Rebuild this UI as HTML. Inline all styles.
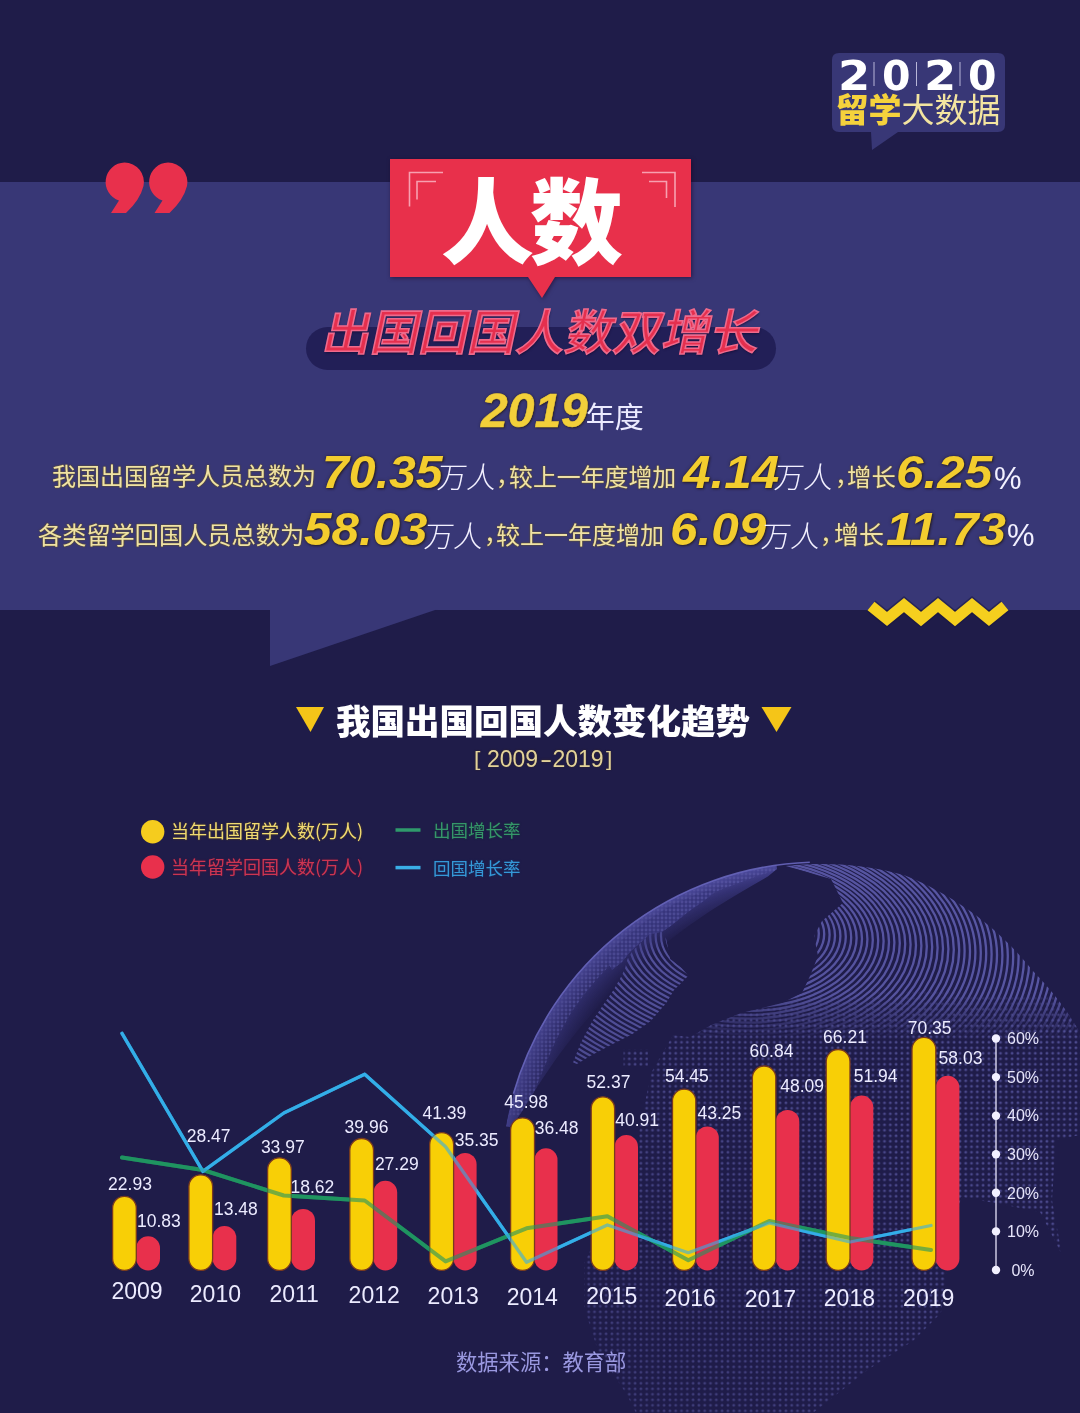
<!DOCTYPE html>
<html lang="zh-CN">
<head>
<meta charset="utf-8">
<title>2020留学大数据 - 人数</title>
<style>
*{margin:0;padding:0;box-sizing:border-box}
html,body{width:1080px;height:1413px;overflow:hidden;background:#1f1c49}
body{position:relative;font-family:"Liberation Sans","Noto Sans CJK SC",sans-serif}
.abs{position:absolute}
.band{left:0;top:182px;width:1080px;height:428px;background:#383776}
.cn{font-family:"Noto Sans CJK SC","Liberation Sans",sans-serif}
.t{white-space:nowrap;line-height:1}
.num{transform:scaleX(1.085);transform-origin:0 0;font:italic bold 45.5px "Liberation Sans",sans-serif;color:#f3cd2e;text-shadow:0 0 3px #2a2230,1px 1px 2px #2a2230}
.wt{font-size:29.5px;font-weight:300;color:#f2f0ff;transform:skewX(-7deg);transform-origin:0 100%}
.yl{font-size:24px;color:#efe2a6;text-shadow:0 0 2px rgba(110,90,20,.9),0 0 1px rgba(110,90,20,.9)}
.pct{font:31px "Liberation Sans",sans-serif;color:#f2f0ff}
</style>
</head>
<body>
<!-- background band -->
<div class="abs band"></div>
<svg class="abs" style="left:0;top:0" width="1080" height="1413" viewBox="0 0 1080 1413">
  <polygon points="270,609 270,666 438,609" fill="#383776"/>
</svg>

<!-- badge -->
<svg class="abs" style="left:0;top:0" width="1080" height="200" viewBox="0 0 1080 200">
  <path d="M839,53 H998 Q1005,53 1005,60 V125 Q1005,132 998,132 H898 L872,150 L871,132 H839 Q832,132 832,125 V60 Q832,53 839,53 Z" fill="#383776"/>
  <g stroke="#b8b6d8" stroke-width="1">
    <line x1="874" y1="62" x2="874" y2="86"/>
    <line x1="916.5" y1="62" x2="916.5" y2="86"/>
    <line x1="960" y1="62" x2="960" y2="86"/>
  </g>
</svg>
<div class="abs t" id="b2020" style="left:838px;top:52px;font:bold 41px 'DejaVu Sans',sans-serif;color:#fff;letter-spacing:0">
  <span class="abs" style="left:-0.5px;transform:scaleX(1.13);transform-origin:0 0">2</span><span class="abs" style="left:44px">0</span><span class="abs" style="left:86px;transform:scaleX(1.13);transform-origin:0 0">2</span><span class="abs" style="left:130px">0</span>
</div>
<div class="abs t cn" style="left:835.5px;top:91.5px;font-size:33px;color:#f3e4a0"><span style="font-weight:900;color:#f5d23c">留学</span>大数据</div>

<!-- quote marks -->
<svg class="abs" style="left:0;top:0" width="300" height="260" viewBox="0 0 300 260">
  <g fill="#e8304c">
    <path d="M124.5,162.5 A19.5,19.5 0 0 1 143.5,186 Q140,200 126,213 L111,213 L119,200.5 A19.5,19.5 0 0 1 124.5,162.5 Z"/>
    <path transform="translate(43.5,0)" d="M124.5,162.5 A19.5,19.5 0 0 1 143.5,186 Q140,200 126,213 L111,213 L119,200.5 A19.5,19.5 0 0 1 124.5,162.5 Z"/>
  </g>
</svg>

<!-- red title box -->
<svg class="abs" style="left:0;top:0" width="1080" height="400" viewBox="0 0 1080 400">
  <path d="M390,159 H691 V277 H555 L542,298 L528,277 H390 Z" fill="#e8304b" style="filter:drop-shadow(1px 1px 2px rgba(30,0,30,.55))"/>
  <g fill="none" stroke="#f7a0b0" stroke-width="1.6">
    <polyline points="443,172.5 409.5,172.5 409.5,206.5"/>
    <polyline points="436,181.5 417,181.5 417,199.5"/>
    <polyline points="642,172.5 675,172.5 675,207"/>
    <polyline points="649,181.5 666.5,181.5 666.5,198"/>
  </g>
  <rect x="306" y="327" width="470" height="43" rx="21.5" fill="#221f57"/>
</svg>
<div class="abs t cn" style="left:441px;top:170px;font-size:93px;font-weight:900;color:#fff;letter-spacing:-4px">人数</div>
<div class="abs t cn" style="left:320px;top:305px;font-size:48.5px;font-weight:500;color:#e52f4e;-webkit-text-stroke:1.6px #ee6a8c;text-shadow:1px 2px 2px rgba(20,10,50,.6);transform:skewX(-12deg);transform-origin:0 100%;letter-spacing:0">出国回国人数双增长</div>

<!-- year line -->
<div class="abs t" style="left:481px;top:383px;font:italic bold 48px 'Liberation Sans',sans-serif;color:#f2cf3a;-webkit-text-stroke:0.5px #f2cf3a;text-shadow:0 0 3px #2a2230,1px 1px 2px #2a2230">2019<span class="cn" style="position:relative;top:1px;left:-2px;font-style:normal;font-weight:400;font-size:29px;color:#ecebff;-webkit-text-stroke:0;text-shadow:none">年度</span></div>


<!-- stats lines -->
<div class="abs t cn yl" style="left:52px;top:463px">我国出国留学人员总数为</div>
<div class="abs t num" style="left:322px;top:447px;transform:scaleX(1.06)">70.35</div>
<div class="abs t cn wt" style="left:436px;top:461px">万人</div>
<div class="abs t cn yl" style="left:496px;top:463px">，</div>
<div class="abs t cn yl" style="left:509px;top:463.5px;font-size:23.9px">较上一年度增加</div>
<div class="abs t num" style="left:683px;top:447px">4.14</div>
<div class="abs t cn wt" style="left:773px;top:461px">万人</div>
<div class="abs t cn yl" style="left:835px;top:463px">，</div>
<div class="abs t cn yl" style="left:847px;top:463.5px;font-size:24.4px">增长</div>
<div class="abs t num" style="left:896px;top:447px">6.25</div>
<div class="abs t pct" style="left:994px;top:461px">%</div>

<div class="abs t cn yl" style="left:38px;top:522px;font-size:24.2px">各类留学回国人员总数为</div>
<div class="abs t num" style="left:304px;top:504px">58.03</div>
<div class="abs t cn wt" style="left:423px;top:519.5px">万人</div>
<div class="abs t cn yl" style="left:484px;top:521px">，</div>
<div class="abs t cn yl" style="left:496px;top:521.5px;font-size:24px">较上一年度增加</div>
<div class="abs t num" style="left:670px;top:504px">6.09</div>
<div class="abs t cn wt" style="left:760px;top:519.5px">万人</div>
<div class="abs t cn yl" style="left:820px;top:521px">，</div>
<div class="abs t cn yl" style="left:834px;top:521px;font-size:25px">增长</div>
<div class="abs t num" style="left:886px;top:504px">11.73</div>
<div class="abs t pct" style="left:1007px;top:518px">%</div>

<!-- zigzag -->
<svg class="abs" style="left:0;top:0" width="1080" height="700" viewBox="0 0 1080 700">
  <polyline points="871,606 887,619 904,605 921,619 938,605 955,619 972,605 989,619 1005,606" fill="none" stroke="#1a1740" stroke-width="14" stroke-linejoin="miter" stroke-linecap="butt" opacity="0.55"/>
  <polyline points="871,606 887,619 904,605 921,619 938,605 955,619 972,605 989,619 1005,606" fill="none" stroke="#f5cf1e" stroke-width="11" stroke-linejoin="miter" stroke-linecap="butt"/>
</svg>

<!-- globe -->
<svg class="abs" style="left:0;top:0" width="1080" height="1413" viewBox="0 0 1080 1413">
<defs>
<pattern id="dA" width="5.8" height="5.5" patternUnits="userSpaceOnUse"><circle cx="2.9" cy="2.75" r="1.45" fill="#4f4d92"/></pattern>
<pattern id="dB" width="4" height="4" patternUnits="userSpaceOnUse"><circle cx="2" cy="2" r="1.45" fill="#5a58a8"/></pattern>
<clipPath id="cE"><polygon points="785.9,865.9 795.0,865.1 804.2,864.4 813.4,864.1 822.6,864.0 831.8,864.2 841.0,864.6 850.2,865.3 859.4,866.3 868.5,867.6 877.6,869.1 886.6,870.8 895.6,872.9 904.4,875.3 913.0,878.8 921.4,882.6 929.6,886.6 937.8,890.9 945.7,895.3 953.5,900.0 961.1,904.9 968.6,910.0 975.9,915.3 983.0,920.8 989.9,926.5 996.6,932.3 1003.1,938.4 1009.5,944.5 1015.6,950.9 1021.5,957.4 1027.2,964.1 1032.7,970.8 1038.7,977.1 1044.6,983.4 1050.2,990.0 1055.7,996.7 1060.9,1003.6 1066.0,1010.6 1070.9,1017.8 1075.5,1025.1 1079.9,1032.5 1080.0,1032.5 1080.0,1135.0 1056.0,1140.0 1052.0,1200.0 1062.0,1255.0 1040.0,1212.0 1000.0,1204.0 961.0,1197.0 948.0,1260.0 941.0,1313.0 913.0,1341.0 869.0,1369.0 813.0,1413.0 636.0,1413.0 627.0,1395.0 598.0,1351.0 584.0,1307.0 584.0,1263.0 613.0,1205.0 636.0,1146.0 651.0,1073.0 673.0,1035.0 690.0,1037.0 711.0,1025.0 741.0,1013.0 782.0,1003.0 802.0,993.0 810.0,976.0 818.0,956.0 814.0,936.0 822.0,921.0 843.0,903.0 831.0,879.0"/></clipPath>
<clipPath id="cN"><polygon points="573.0,1062.6 580.7,1043.0 592.4,1021.0 602.8,1005.6 611.9,992.6 619.6,979.6 624.8,969.3 627.4,958.9 632.6,951.1 640.4,943.3 650.7,933.0 661.0,930.4 666.3,939.4 670.2,958.9 680.6,966.7 688.3,975.7 681.9,982.2 674.0,990.0 666.3,1003.0 650.7,1021.0 632.6,1034.0 611.9,1044.4 592.4,1054.8 576.9,1063.9"/></clipPath>
<clipPath id="gclip"><circle cx="821" cy="1182" r="320"/></clipPath>
<linearGradient id="fade" x1="0" y1="1" x2="1" y2="0"><stop offset="0" stop-color="#fff" stop-opacity="0.55"/><stop offset="0.6" stop-color="#fff" stop-opacity="0.9"/><stop offset="1" stop-color="#fff" stop-opacity="1"/></linearGradient>
<mask id="m1" maskUnits="userSpaceOnUse" x="480" y="840" width="600" height="580"><rect x="480" y="840" width="600" height="580" fill="url(#fade)"/></mask>
<radialGradient id="rg" gradientUnits="userSpaceOnUse" cx="821" cy="1182" r="320"><stop offset="0.88" stop-color="#3a3880" stop-opacity="0"/><stop offset="0.95" stop-color="#3e3c88" stop-opacity="0.7"/><stop offset="1" stop-color="#4e4ca2" stop-opacity="1"/></radialGradient>
<linearGradient id="gR" x1="0" y1="0" x2="0" y2="1"><stop offset="0" stop-color="#fff"/><stop offset="0.78" stop-color="#fff"/><stop offset="1" stop-color="#fff" stop-opacity="0"/></linearGradient>
<mask id="mRings" maskUnits="userSpaceOnUse" x="480" y="840" width="600" height="200"><rect x="480" y="840" width="600" height="200" fill="url(#gR)"/></mask>
<linearGradient id="gD" x1="0" y1="0" x2="0" y2="1"><stop offset="0" stop-color="#fff" stop-opacity="0"/><stop offset="0.1" stop-color="#fff"/><stop offset="1" stop-color="#fff"/></linearGradient>
<mask id="mDots" maskUnits="userSpaceOnUse" x="480" y="985" width="600" height="435"><rect x="480" y="985" width="600" height="435" fill="url(#gD)"/></mask>
<clipPath id="cTop"><rect x="480" y="840" width="600" height="170"/></clipPath></defs>
<g clip-path="url(#gclip)" mask="url(#m1)">
<g clip-path="url(#cE)"><rect x="480" y="985" width="600" height="435" fill="url(#dA)" mask="url(#mDots)"/>
<g fill="none" stroke="#5a58a6" stroke-width="2.3" mask="url(#mRings)"><ellipse cx="748" cy="925.7" rx="6.0" ry="3.6"/><ellipse cx="748" cy="926.4" rx="11.4" ry="6.8"/><ellipse cx="748" cy="927.0" rx="16.8" ry="10.1"/><ellipse cx="748" cy="927.7" rx="22.2" ry="13.3"/><ellipse cx="748" cy="928.3" rx="27.6" ry="16.6"/><ellipse cx="748" cy="929.0" rx="33.0" ry="19.8"/><ellipse cx="748" cy="929.6" rx="38.4" ry="23.0"/><ellipse cx="748" cy="930.3" rx="43.8" ry="26.3"/><ellipse cx="748" cy="930.9" rx="49.2" ry="29.5"/><ellipse cx="748" cy="931.6" rx="54.6" ry="32.8"/><ellipse cx="748" cy="932.2" rx="60.0" ry="36.0"/><ellipse cx="748" cy="932.8" rx="65.4" ry="39.2"/><ellipse cx="748" cy="933.5" rx="70.8" ry="42.5"/><ellipse cx="748" cy="934.1" rx="76.2" ry="45.7"/><ellipse cx="748" cy="934.8" rx="81.6" ry="49.0"/><ellipse cx="748" cy="935.4" rx="87.0" ry="52.2"/><ellipse cx="748" cy="936.1" rx="92.4" ry="55.4"/><ellipse cx="748" cy="936.7" rx="97.8" ry="58.7"/><ellipse cx="748" cy="937.4" rx="103.2" ry="61.9"/><ellipse cx="748" cy="938.0" rx="108.6" ry="65.2"/><ellipse cx="748" cy="938.7" rx="114.0" ry="68.4"/><ellipse cx="748" cy="939.3" rx="119.4" ry="71.6"/><ellipse cx="748" cy="940.0" rx="124.8" ry="74.9"/><ellipse cx="748" cy="940.6" rx="130.2" ry="78.1"/><ellipse cx="748" cy="941.3" rx="135.6" ry="81.4"/><ellipse cx="748" cy="941.9" rx="141.0" ry="84.6"/><ellipse cx="748" cy="942.6" rx="146.4" ry="87.8"/><ellipse cx="748" cy="943.2" rx="151.8" ry="91.1"/><ellipse cx="748" cy="943.9" rx="157.2" ry="94.3"/><ellipse cx="748" cy="944.5" rx="162.6" ry="97.6"/><ellipse cx="748" cy="945.2" rx="168.0" ry="100.8"/><ellipse cx="748" cy="945.8" rx="173.4" ry="104.0"/><ellipse cx="748" cy="946.5" rx="178.8" ry="107.3"/><ellipse cx="748" cy="947.1" rx="184.2" ry="110.5"/><ellipse cx="748" cy="947.8" rx="189.6" ry="113.8"/><ellipse cx="748" cy="948.4" rx="195.0" ry="117.0"/><ellipse cx="748" cy="949.0" rx="200.4" ry="120.2"/><ellipse cx="748" cy="949.7" rx="205.8" ry="123.5"/><ellipse cx="748" cy="950.3" rx="211.2" ry="126.7"/><ellipse cx="748" cy="951.0" rx="216.6" ry="130.0"/><ellipse cx="748" cy="951.6" rx="222.0" ry="133.2"/><ellipse cx="748" cy="952.3" rx="227.4" ry="136.4"/><ellipse cx="748" cy="952.9" rx="232.8" ry="139.7"/><ellipse cx="748" cy="953.6" rx="238.2" ry="142.9"/><ellipse cx="748" cy="954.2" rx="243.6" ry="146.2"/><ellipse cx="748" cy="954.9" rx="249.0" ry="149.4"/><ellipse cx="748" cy="955.5" rx="254.4" ry="152.6"/><ellipse cx="748" cy="956.2" rx="259.8" ry="155.9"/><ellipse cx="748" cy="956.8" rx="265.2" ry="159.1"/><ellipse cx="748" cy="957.5" rx="270.6" ry="162.4"/><ellipse cx="748" cy="958.1" rx="276.0" ry="165.6"/><ellipse cx="748" cy="958.8" rx="281.4" ry="168.8"/><ellipse cx="748" cy="959.4" rx="286.8" ry="172.1"/><ellipse cx="748" cy="960.1" rx="292.2" ry="175.3"/><ellipse cx="748" cy="960.7" rx="297.6" ry="178.6"/><ellipse cx="748" cy="961.4" rx="303.0" ry="181.8"/><ellipse cx="748" cy="962.0" rx="308.4" ry="185.0"/><ellipse cx="748" cy="962.7" rx="313.8" ry="188.3"/><ellipse cx="748" cy="963.3" rx="319.2" ry="191.5"/><ellipse cx="748" cy="964.0" rx="324.6" ry="194.8"/><ellipse cx="748" cy="964.6" rx="330.0" ry="198.0"/><ellipse cx="748" cy="965.2" rx="335.4" ry="201.2"/><ellipse cx="748" cy="965.9" rx="340.8" ry="204.5"/><ellipse cx="748" cy="966.5" rx="346.2" ry="207.7"/><ellipse cx="748" cy="967.2" rx="351.6" ry="211.0"/><ellipse cx="748" cy="967.8" rx="357.0" ry="214.2"/><ellipse cx="748" cy="968.5" rx="362.4" ry="217.4"/><ellipse cx="748" cy="969.1" rx="367.8" ry="220.7"/><ellipse cx="748" cy="969.8" rx="373.2" ry="223.9"/><ellipse cx="748" cy="970.4" rx="378.6" ry="227.2"/><ellipse cx="748" cy="971.1" rx="384.0" ry="230.4"/><ellipse cx="748" cy="971.7" rx="389.4" ry="233.6"/><ellipse cx="748" cy="972.4" rx="394.8" ry="236.9"/><ellipse cx="748" cy="973.0" rx="400.2" ry="240.1"/><ellipse cx="748" cy="973.7" rx="405.6" ry="243.4"/><ellipse cx="748" cy="974.3" rx="411.0" ry="246.6"/><ellipse cx="748" cy="975.0" rx="416.4" ry="249.8"/></g>
</g>
<g clip-path="url(#cN)" fill="none" stroke="#5a58a6" stroke-width="2.2"><ellipse cx="748" cy="925.7" rx="6.0" ry="3.6"/><ellipse cx="748" cy="926.4" rx="11.4" ry="6.8"/><ellipse cx="748" cy="927.0" rx="16.8" ry="10.1"/><ellipse cx="748" cy="927.7" rx="22.2" ry="13.3"/><ellipse cx="748" cy="928.3" rx="27.6" ry="16.6"/><ellipse cx="748" cy="929.0" rx="33.0" ry="19.8"/><ellipse cx="748" cy="929.6" rx="38.4" ry="23.0"/><ellipse cx="748" cy="930.3" rx="43.8" ry="26.3"/><ellipse cx="748" cy="930.9" rx="49.2" ry="29.5"/><ellipse cx="748" cy="931.6" rx="54.6" ry="32.8"/><ellipse cx="748" cy="932.2" rx="60.0" ry="36.0"/><ellipse cx="748" cy="932.8" rx="65.4" ry="39.2"/><ellipse cx="748" cy="933.5" rx="70.8" ry="42.5"/><ellipse cx="748" cy="934.1" rx="76.2" ry="45.7"/><ellipse cx="748" cy="934.8" rx="81.6" ry="49.0"/><ellipse cx="748" cy="935.4" rx="87.0" ry="52.2"/><ellipse cx="748" cy="936.1" rx="92.4" ry="55.4"/><ellipse cx="748" cy="936.7" rx="97.8" ry="58.7"/><ellipse cx="748" cy="937.4" rx="103.2" ry="61.9"/><ellipse cx="748" cy="938.0" rx="108.6" ry="65.2"/><ellipse cx="748" cy="938.7" rx="114.0" ry="68.4"/><ellipse cx="748" cy="939.3" rx="119.4" ry="71.6"/><ellipse cx="748" cy="940.0" rx="124.8" ry="74.9"/><ellipse cx="748" cy="940.6" rx="130.2" ry="78.1"/><ellipse cx="748" cy="941.3" rx="135.6" ry="81.4"/><ellipse cx="748" cy="941.9" rx="141.0" ry="84.6"/><ellipse cx="748" cy="942.6" rx="146.4" ry="87.8"/><ellipse cx="748" cy="943.2" rx="151.8" ry="91.1"/><ellipse cx="748" cy="943.9" rx="157.2" ry="94.3"/><ellipse cx="748" cy="944.5" rx="162.6" ry="97.6"/><ellipse cx="748" cy="945.2" rx="168.0" ry="100.8"/><ellipse cx="748" cy="945.8" rx="173.4" ry="104.0"/><ellipse cx="748" cy="946.5" rx="178.8" ry="107.3"/><ellipse cx="748" cy="947.1" rx="184.2" ry="110.5"/><ellipse cx="748" cy="947.8" rx="189.6" ry="113.8"/><ellipse cx="748" cy="948.4" rx="195.0" ry="117.0"/><ellipse cx="748" cy="949.0" rx="200.4" ry="120.2"/><ellipse cx="748" cy="949.7" rx="205.8" ry="123.5"/><ellipse cx="748" cy="950.3" rx="211.2" ry="126.7"/><ellipse cx="748" cy="951.0" rx="216.6" ry="130.0"/><ellipse cx="748" cy="951.6" rx="222.0" ry="133.2"/><ellipse cx="748" cy="952.3" rx="227.4" ry="136.4"/><ellipse cx="748" cy="952.9" rx="232.8" ry="139.7"/><ellipse cx="748" cy="953.6" rx="238.2" ry="142.9"/><ellipse cx="748" cy="954.2" rx="243.6" ry="146.2"/><ellipse cx="748" cy="954.9" rx="249.0" ry="149.4"/><ellipse cx="748" cy="955.5" rx="254.4" ry="152.6"/><ellipse cx="748" cy="956.2" rx="259.8" ry="155.9"/><ellipse cx="748" cy="956.8" rx="265.2" ry="159.1"/><ellipse cx="748" cy="957.5" rx="270.6" ry="162.4"/><ellipse cx="748" cy="958.1" rx="276.0" ry="165.6"/><ellipse cx="748" cy="958.8" rx="281.4" ry="168.8"/><ellipse cx="748" cy="959.4" rx="286.8" ry="172.1"/><ellipse cx="748" cy="960.1" rx="292.2" ry="175.3"/><ellipse cx="748" cy="960.7" rx="297.6" ry="178.6"/><ellipse cx="748" cy="961.4" rx="303.0" ry="181.8"/><ellipse cx="748" cy="962.0" rx="308.4" ry="185.0"/><ellipse cx="748" cy="962.7" rx="313.8" ry="188.3"/><ellipse cx="748" cy="963.3" rx="319.2" ry="191.5"/><ellipse cx="748" cy="964.0" rx="324.6" ry="194.8"/><ellipse cx="748" cy="964.6" rx="330.0" ry="198.0"/><ellipse cx="748" cy="965.2" rx="335.4" ry="201.2"/><ellipse cx="748" cy="965.9" rx="340.8" ry="204.5"/><ellipse cx="748" cy="966.5" rx="346.2" ry="207.7"/><ellipse cx="748" cy="967.2" rx="351.6" ry="211.0"/><ellipse cx="748" cy="967.8" rx="357.0" ry="214.2"/><ellipse cx="748" cy="968.5" rx="362.4" ry="217.4"/><ellipse cx="748" cy="969.1" rx="367.8" ry="220.7"/><ellipse cx="748" cy="969.8" rx="373.2" ry="223.9"/><ellipse cx="748" cy="970.4" rx="378.6" ry="227.2"/><ellipse cx="748" cy="971.1" rx="384.0" ry="230.4"/><ellipse cx="748" cy="971.7" rx="389.4" ry="233.6"/><ellipse cx="748" cy="972.4" rx="394.8" ry="236.9"/><ellipse cx="748" cy="973.0" rx="400.2" ry="240.1"/><ellipse cx="748" cy="973.7" rx="405.6" ry="243.4"/><ellipse cx="748" cy="974.3" rx="411.0" ry="246.6"/><ellipse cx="748" cy="975.0" rx="416.4" ry="249.8"/></g>
<clipPath id="cB"><polygon points="504.9,1126.3 506.8,1116.4 509.0,1106.5 511.5,1096.8 514.4,1087.1 517.5,1077.5 520.9,1068.0 524.6,1058.6 528.7,1049.4 533.0,1040.3 537.6,1031.3 542.4,1022.5 547.6,1013.8 553.0,1005.3 558.7,997.0 564.6,988.8 570.8,980.9 577.3,973.1 584.0,965.5 590.9,958.2 598.0,951.1 605.4,944.2 613.0,937.5 620.7,931.1 628.7,925.0 636.9,919.1 645.2,913.4 653.8,908.0 662.4,902.9 671.3,898.0 680.3,893.5 689.4,889.2 698.7,885.2 708.1,881.5 717.6,878.1 727.1,875.0 736.8,872.2 746.6,869.7 756.5,867.6 766.4,865.7 776.3,864.1 777.0,869.1 768.2,876.3 759.3,881.5 750.6,886.5 742.1,891.5 733.7,896.4 725.5,901.4 717.4,906.4 709.5,911.5 701.8,916.7 694.2,922.0 686.7,927.3 679.4,932.7 672.2,938.2 665.1,943.8 658.2,949.5 651.4,955.3 644.7,961.1 638.0,967.0 631.5,973.0 625.1,979.1 618.8,985.3 612.5,991.6 606.4,998.1 600.3,1004.6 594.3,1011.2 588.4,1017.9 582.6,1024.8 576.8,1031.8 571.1,1038.9 565.5,1046.2 560.0,1053.6 554.6,1061.1 549.2,1068.9 543.9,1076.7 538.6,1084.8 533.4,1093.0 528.2,1101.3 522.9,1109.9 517.3,1118.5 509.8,1127.1"/></clipPath>
<g clip-path="url(#cB)"><circle cx="821" cy="1182" r="320" fill="url(#rg)"/><polygon points="509.0,1115.7 512.1,1102.3 515.8,1089.1 520.1,1076.0 525.0,1063.2 530.3,1050.6 536.3,1038.2 542.7,1026.0 549.7,1014.2 557.2,1002.7 565.1,991.5 573.6,980.7 582.5,970.2 591.8,960.1 601.5,950.5 611.7,941.2 622.3,932.5 633.2,924.1 644.5,916.3 656.1,908.9 668.0,902.1 680.2,895.8 692.6,890.0 705.3,884.7 718.2,880.0 731.3,875.9 744.5,872.3 757.9,869.3 771.5,866.9 785.1,865.0 798.7,863.8 760.0,875.0 720.0,890.0 691.0,903.0 666.5,918.0 645.0,932.0 631.0,945.0 612.0,963.0 596.0,980.0 583.0,996.0 571.5,1012.0 556.0,1040.0 543.0,1070.0 533.0,1095.0 520.0,1115.0" fill="url(#dB)" opacity="0.8"/></g>
<polygon points="623.5,1049.6 648.0,1049.6 648.0,1066.5 623.5,1066.5" fill="url(#dA)"/>
<polygon points="605.0,958.0 622.0,940.0 645.0,922.0 672.0,905.0 700.0,893.0 720.0,888.0 705.0,900.0 688.0,912.0 672.0,925.0 662.0,932.0 650.0,934.0 640.0,943.0 630.0,952.0 622.0,962.0 612.0,970.0" fill="#3a3882" opacity="0.8"/><polygon points="605.0,958.0 622.0,940.0 645.0,922.0 672.0,905.0 700.0,893.0 720.0,888.0 705.0,900.0 688.0,912.0 672.0,925.0 662.0,932.0 650.0,934.0 640.0,943.0 630.0,952.0 622.0,962.0 612.0,970.0" fill="url(#dB)" opacity="0.7"/>
</g>
<path d="M513.4,1093.8 A320,320 0 0 1 809.8,862.2" fill="none" stroke="#6866bc" stroke-width="1.6" opacity="0.9"/>
</svg>
<!-- /globe -->
<!-- chart title -->
<svg class="abs" style="left:0;top:0" width="1080" height="800" viewBox="0 0 1080 800">
  <polygon points="296,707 324,707 310.5,732" fill="#f5c518"/>
  <polygon points="761.5,707 791.5,707 776.5,732" fill="#f5c518"/>
</svg>
<div class="abs t cn" style="left:336px;top:702px;font-size:34.5px;font-weight:900;color:#fff">我国出国回国人数变化趋势</div>
<div class="abs t" style="left:474px;top:748px;font-size:23px;color:#e2d29a;text-shadow:0 0 2px #3a2a20"><span class="abs" style="left:0;top:0;transform:scaleY(0.85);transform-origin:50% 50%">[</span><span class="abs" style="left:13px;top:0">2009</span><span class="abs" style="left:66px;top:0;transform:scaleX(1.6);transform-origin:0 0">-</span><span class="abs" style="left:78.5px;top:0">2019</span><span class="abs" style="left:132px;top:0;transform:scaleY(0.85);transform-origin:50% 50%">]</span></div>

<!-- legend -->
<svg class="abs" style="left:0;top:0" width="1080" height="900" viewBox="0 0 1080 900">
  <circle cx="152.7" cy="831.7" r="11.7" fill="#f5cc1e"/>
  <circle cx="152.7" cy="867" r="11.7" fill="#e8304c"/>
  <line x1="395.5" y1="830" x2="420.5" y2="830" stroke="#2f9a6c" stroke-width="3.5"/>
  <line x1="395.5" y1="867.6" x2="420.5" y2="867.6" stroke="#3aaee6" stroke-width="3.5"/>
</svg>
<div class="abs t cn" style="left:171px;top:821px;font-size:18px;color:#f0da72;text-shadow:0 0 2px rgba(120,90,10,.8)">当年出国留学人数(万人)</div>
<div class="abs t cn" style="left:171px;top:857px;font-size:18px;color:#cc3552;text-shadow:0 0 2px rgba(110,20,50,.8)">当年留学回国人数(万人)</div>
<div class="abs t cn" style="left:433px;top:821px;font-size:17.5px;color:#35966a;text-shadow:0 0 2px rgba(20,70,50,.8)">出国增长率</div>
<div class="abs t cn" style="left:433px;top:859px;font-size:17.5px;color:#3598d8;text-shadow:0 0 2px rgba(20,60,110,.8)">回国增长率</div>

<!-- chart -->
<svg class="abs" style="left:0;top:0" width="1080" height="1413" viewBox="0 0 1080 1413">
<polyline points="122.0,1157.5 202.9,1170 283.8,1195.5 364.7,1200.5 445.6,1261.4 526.5,1228.3 607.4,1216.3 688.3,1260.3 769.2,1221 850.1,1238 931.0,1250" fill="none" stroke="#1f9460" stroke-width="4" stroke-linejoin="round" stroke-linecap="round"/>
<polyline points="122.0,1033.3 202.9,1171.4 283.8,1113 364.7,1074.2 445.6,1146.7 526.5,1262.3 607.4,1225 688.3,1252.7 769.2,1223 850.1,1242 931.0,1225.5" fill="none" stroke="#33aee8" stroke-width="3.3" stroke-linejoin="round" stroke-linecap="round"/>
<g fill="#e8304c">
<rect x="136.3" y="1236.3" width="23.7" height="34.1" rx="11.8"/>
<rect x="212.6" y="1226.0" width="23.7" height="44.4" rx="11.9"/>
<rect x="291.3" y="1208.9" width="23.7" height="61.5" rx="11.8"/>
<rect x="373.5" y="1180.7" width="23.7" height="89.7" rx="11.8"/>
<rect x="453.6" y="1152.9" width="23.0" height="117.5" rx="11.5"/>
<rect x="534.5" y="1148.3" width="23.0" height="122.1" rx="11.5"/>
<rect x="614.6" y="1135.0" width="23.4" height="135.4" rx="11.7"/>
<rect x="695.8" y="1126.5" width="23.0" height="143.9" rx="11.5"/>
<rect x="775.8" y="1109.9" width="23.5" height="160.5" rx="11.8"/>
<rect x="850.0" y="1095.6" width="23.3" height="174.8" rx="11.6"/>
<rect x="935.8" y="1075.8" width="23.6" height="194.6" rx="11.8"/>
</g>
<g fill="#f8cf06" stroke="#7a3a1e" stroke-width="1.3">
<rect x="112.6" y="1196.3" width="23.7" height="74.1" rx="11.9"/>
<rect x="188.9" y="1174.8" width="23.7" height="95.6" rx="11.8"/>
<rect x="267.6" y="1157.8" width="23.7" height="112.6" rx="11.8"/>
<rect x="349.8" y="1138.5" width="23.7" height="131.9" rx="11.8"/>
<rect x="429.7" y="1132.6" width="23.9" height="137.8" rx="12.0"/>
<rect x="510.6" y="1117.9" width="23.9" height="152.5" rx="11.9"/>
<rect x="591.2" y="1096.8" width="23.4" height="173.6" rx="11.7"/>
<rect x="672.5" y="1089.2" width="23.3" height="181.2" rx="11.6"/>
<rect x="752.4" y="1066.0" width="23.4" height="204.4" rx="11.7"/>
<rect x="826.2" y="1049.5" width="23.8" height="220.9" rx="11.9"/>
<rect x="912.0" y="1037.4" width="23.8" height="233.0" rx="11.9"/>
</g>
<polyline points="122.0,1157.5 202.9,1170 283.8,1195.5 364.7,1200.5 445.6,1261.4 526.5,1228.3 607.4,1216.3 688.3,1260.3 769.2,1221 850.1,1238 931.0,1250" fill="none" stroke="#1f9460" stroke-width="4" stroke-linejoin="round" stroke-linecap="round" opacity="0.6"/>
<polyline points="122.0,1033.3 202.9,1171.4 283.8,1113 364.7,1074.2 445.6,1146.7 526.5,1262.3 607.4,1225 688.3,1252.7 769.2,1223 850.1,1242 931.0,1225.5" fill="none" stroke="#33aee8" stroke-width="3.3" stroke-linejoin="round" stroke-linecap="round" opacity="0.6"/>
<g font-family="Liberation Sans, sans-serif" font-size="17.5" fill="#ecebff">
<text x="108.1" y="1190.4">22.93</text>
<text x="186.7" y="1142.2">28.47</text>
<text x="260.9" y="1153.3">33.97</text>
<text x="344.6" y="1132.6">39.96</text>
<text x="422.5" y="1118.9">41.39</text>
<text x="504.2" y="1107.8">45.98</text>
<text x="586.6" y="1088.2">52.37</text>
<text x="665.0" y="1081.5">54.45</text>
<text x="749.6" y="1057.2">60.84</text>
<text x="823.1" y="1042.9">66.21</text>
<text x="907.8" y="1033.7">70.35</text>
<text x="137.0" y="1226.7">10.83</text>
<text x="214.0" y="1214.8">13.48</text>
<text x="290.5" y="1193.3">18.62</text>
<text x="374.9" y="1169.6">27.29</text>
<text x="454.7" y="1146.4">35.35</text>
<text x="534.7" y="1133.6">36.48</text>
<text x="615.3" y="1125.5">40.91</text>
<text x="697.5" y="1119.0">43.25</text>
<text x="780.2" y="1092.3">48.09</text>
<text x="853.8" y="1082.4">51.94</text>
<text x="938.6" y="1063.7">58.03</text>
</g>
<g font-family="Liberation Sans, sans-serif" font-size="23" fill="#ecebff">
<text x="111.4" y="1298.5">2009</text>
<text x="189.8" y="1301.5">2010</text>
<text x="269.4" y="1301.5">2011</text>
<text x="348.6" y="1303.0">2012</text>
<text x="427.6" y="1303.7">2013</text>
<text x="506.7" y="1304.6">2014</text>
<text x="586.2" y="1304.3">2015</text>
<text x="664.6" y="1306.0">2016</text>
<text x="744.8" y="1307.4">2017</text>
<text x="823.8" y="1306.3">2018</text>
<text x="903.1" y="1306.1">2019</text>
</g>
<line x1="996" y1="1038.5" x2="996" y2="1270" stroke="#e6e4fa" stroke-width="1.3"/>
<g fill="#f2f0ff">
<circle cx="996" cy="1038.5" r="4.2"/>
<circle cx="996" cy="1077.1" r="4.2"/>
<circle cx="996" cy="1115.7" r="4.2"/>
<circle cx="996" cy="1154.2" r="4.2"/>
<circle cx="996" cy="1192.8" r="4.2"/>
<circle cx="996" cy="1231.4" r="4.2"/>
<circle cx="996" cy="1270.0" r="4.2"/>
</g>
<g font-family="Liberation Sans, sans-serif" font-size="16" fill="#e6e4fa" text-anchor="middle">
<text x="1023" y="1044.2">60%</text>
<text x="1023" y="1082.8">50%</text>
<text x="1023" y="1121.4">40%</text>
<text x="1023" y="1159.9">30%</text>
<text x="1023" y="1198.5">20%</text>
<text x="1023" y="1237.1">10%</text>
<text x="1023" y="1275.7">0%</text>
</g>
</svg>
<!-- /chart -->
<!-- footer -->
<div class="abs t cn" style="left:456px;top:1350px;font-size:21.3px;color:#9a98e0">数据来源：教育部</div>
</body>
</html>
